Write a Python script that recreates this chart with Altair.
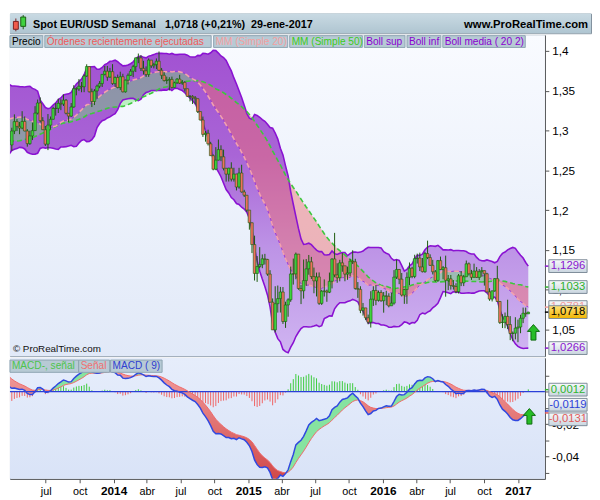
import altair as alt
import pandas as pd

FONT = "Liberation Sans"

# ---------------- data (weekly EUR/USD) ----------------
# closes used only to warm up the indicators (Apr 2012 - Mar 2013)
WARM_CLOSE = [1.3094, 1.3077, 1.3218, 1.3236, 1.3080, 1.2916, 1.2776, 1.2517, 1.2433, 1.2500,
              1.2639, 1.2570, 1.2660, 1.2290, 1.2245, 1.2155, 1.2321, 1.2388, 1.2290, 1.2333,
              1.2516, 1.2577, 1.2816, 1.3130, 1.2980, 1.2859, 1.3036, 1.2953, 1.3021, 1.2940,
              1.2834, 1.2711, 1.2744, 1.2975, 1.2985, 1.2924, 1.3163, 1.3187, 1.3216, 1.3067,
              1.3344, 1.3315, 1.3458, 1.3640, 1.3366, 1.3364, 1.3189, 1.3023, 1.3000, 1.3077,
              1.2986, 1.2819]

# visible candles, weeks starting 31-mar-2013 ... 29-ene-2017
CLOSE = [
    # 2013
    1.2994, 1.3112, 1.3052, 1.3031, 1.3114, 1.2994, 1.2835, 1.2932, 1.2999, 1.3219,
    1.3346, 1.3123, 1.3010, 1.2829, 1.3068, 1.3141, 1.3277, 1.3278, 1.3342, 1.3333,
    1.3381, 1.3217, 1.3181, 1.3296, 1.3525, 1.3522, 1.3556, 1.3550, 1.3685, 1.3804,
    1.3487, 1.3365, 1.3497, 1.3558, 1.3590, 1.3706, 1.3745, 1.3671, 1.3740,
    # 2014
    1.3590, 1.3666, 1.3540, 1.3676, 1.3486, 1.3633, 1.3693, 1.3745, 1.3803, 1.3913,
    1.3912, 1.3781, 1.3750, 1.3703, 1.3885, 1.3813, 1.3829, 1.3871, 1.3757, 1.3694,
    1.3628, 1.3633, 1.3642, 1.3541, 1.3600, 1.3646, 1.3595, 1.3605, 1.3525, 1.3430,
    1.3429, 1.3412, 1.3400, 1.3238, 1.3132, 1.2951, 1.2965, 1.2833, 1.2684, 1.2514,
    1.2628, 1.2760, 1.2670, 1.2525, 1.2452, 1.2527, 1.2389, 1.2453, 1.2290, 1.2466,
    1.2228, 1.2187,
    # 2015
    1.2000, 1.1841, 1.1567, 1.1204, 1.1291, 1.1315, 1.1388, 1.1380, 1.1196, 1.0843,
    1.0495, 1.0824, 1.0888, 1.0971, 1.0600, 1.0808, 1.0873, 1.1198, 1.1198, 1.1447,
    1.1015, 1.0986, 1.1114, 1.1262, 1.1350, 1.1165, 1.1111, 1.1160, 1.0828, 1.0981,
    1.0983, 1.0968, 1.1105, 1.1386, 1.1186, 1.1150, 1.1337, 1.1300, 1.1195, 1.1211,
    1.1358, 1.1350, 1.1015, 1.1004, 1.0741, 1.0771, 1.0647, 1.0592, 1.0880, 1.0990,
    1.0866, 1.0965,
    # 2016
    1.0861, 1.0922, 1.0917, 1.0797, 1.0831, 1.1158, 1.1254, 1.1132, 1.0932, 1.1002,
    1.1155, 1.1270, 1.1166, 1.1390, 1.1397, 1.1286, 1.1226, 1.1454, 1.1404, 1.1306,
    1.1225, 1.1116, 1.1365, 1.1253, 1.1276, 1.1117, 1.1136, 1.1052, 1.1040, 1.0976,
    1.1175, 1.1086, 1.1162, 1.1325, 1.1200, 1.1155, 1.1234, 1.1154, 1.1226, 1.1240,
    1.1200, 1.0972, 1.0882, 1.0985, 1.1139, 1.0852, 1.0588, 1.0590, 1.0664, 1.0562,
    1.0450, 1.0453, 1.0517,
    # 2017
    1.0531, 1.0641, 1.0704, 1.0696, 1.0718]

HIGH = [
    1.3035, 1.3203, 1.3145, 1.3108, 1.3243, 1.3177, 1.3017, 1.2997, 1.3099, 1.3306,
    1.3389, 1.3416, 1.3168, 1.3057, 1.3207, 1.3176, 1.3297, 1.3345, 1.3400, 1.3393,
    1.3453, 1.3395, 1.3220, 1.3345, 1.3569, 1.3544, 1.3646, 1.3610, 1.3705, 1.3832,
    1.3808, 1.3527, 1.3520, 1.3577, 1.3621, 1.3709, 1.3811, 1.3812, 1.3787,
    1.3834, 1.3680, 1.3703, 1.3739, 1.3713, 1.3640, 1.3717, 1.3773, 1.3826, 1.3915,
    1.3967, 1.3945, 1.3876, 1.3806, 1.3906, 1.3867, 1.3851, 1.3906, 1.3993, 1.3786,
    1.3733, 1.3677, 1.3670, 1.3677, 1.3614, 1.3659, 1.3700, 1.3635, 1.3621, 1.3525,
    1.3445, 1.3444, 1.3433, 1.3393, 1.3228, 1.3175, 1.2994, 1.3010, 1.2858, 1.2700,
    1.2791, 1.2887, 1.2814, 1.2760, 1.2530, 1.2532, 1.2601, 1.2532, 1.2456, 1.2531,
    1.2570, 1.2255,
    1.2186, 1.1966, 1.1843, 1.1679, 1.1423, 1.1534, 1.1443, 1.1450, 1.1387, 1.1245,
    1.0890, 1.1043, 1.1052, 1.1035, 1.1033, 1.0849, 1.0892, 1.1290, 1.1391, 1.1467,
    1.1445, 1.1058, 1.1379, 1.1385, 1.1436, 1.1412, 1.1278, 1.1215, 1.1217, 1.0998,
    1.1129, 1.1001, 1.1215, 1.1393, 1.1714, 1.1332, 1.1375, 1.1460, 1.1298, 1.1290,
    1.1387, 1.1495, 1.1388, 1.1096, 1.1043, 1.0833, 1.0761, 1.0687, 1.0981, 1.1043,
    1.1059, 1.0989,
    1.0994, 1.0971, 1.0986, 1.0955, 1.0962, 1.1246, 1.1376, 1.1260, 1.1210, 1.1011,
    1.1218, 1.1342, 1.1287, 1.1439, 1.1453, 1.1465, 1.1398, 1.1475, 1.1616, 1.1444,
    1.1375, 1.1247, 1.1373, 1.1416, 1.1298, 1.1428, 1.1185, 1.1185, 1.1121, 1.1081,
    1.1197, 1.1234, 1.1186, 1.1366, 1.1342, 1.1249, 1.1327, 1.1284, 1.1258, 1.1284,
    1.1240, 1.1212, 1.1018, 1.0989, 1.1146, 1.1300, 1.0857, 1.0691, 1.0713, 1.0874,
    1.0668, 1.0475, 1.0654,
    1.0624, 1.0685, 1.0775, 1.0775, 1.0722]

LOW = [
    1.2745, 1.2955, 1.2993, 1.2954, 1.3016, 1.2990, 1.2797, 1.2820, 1.2880, 1.2996,
    1.3201, 1.3101, 1.3007, 1.2806, 1.2754, 1.3011, 1.3137, 1.3187, 1.3220, 1.3256,
    1.3308, 1.3203, 1.3105, 1.3170, 1.3286, 1.3442, 1.3497, 1.3481, 1.3482, 1.3675,
    1.3478, 1.3295, 1.3320, 1.3400, 1.3532, 1.3547, 1.3692, 1.3625, 1.3663,
    1.3574, 1.3547, 1.3530, 1.3508, 1.3479, 1.3476, 1.3579, 1.3686, 1.3671, 1.3735,
    1.3846, 1.3748, 1.3704, 1.3673, 1.3674, 1.3786, 1.3781, 1.3772, 1.3748, 1.3647,
    1.3615, 1.3586, 1.3503, 1.3527, 1.3540, 1.3585, 1.3584, 1.3574, 1.3490, 1.3424,
    1.3366, 1.3333, 1.3327, 1.3220, 1.3127, 1.2920, 1.2860, 1.2812, 1.2681, 1.2500,
    1.2502, 1.2623, 1.2615, 1.2499, 1.2358, 1.2359, 1.2360, 1.2358, 1.2247, 1.2269,
    1.2220, 1.2165,
    1.1977, 1.1754, 1.1460, 1.1115, 1.1098, 1.1270, 1.1270, 1.1316, 1.1175, 1.0840,
    1.0494, 1.0462, 1.0712, 1.0713, 1.0570, 1.0520, 1.0660, 1.0847, 1.1064, 1.1131,
    1.0999, 1.0819, 1.0888, 1.1049, 1.1188, 1.1134, 1.0955, 1.0915, 1.0809, 1.0808,
    1.0914, 1.0848, 1.0957, 1.1016, 1.1156, 1.1087, 1.1105, 1.1225, 1.1106, 1.1124,
    1.1169, 1.1322, 1.1000, 1.0897, 1.0705, 1.0674, 1.0617, 1.0565, 1.0524, 1.0796,
    1.0805, 1.0850,
    1.0848, 1.0711, 1.0805, 1.0778, 1.0811, 1.0812, 1.1134, 1.1069, 1.0914, 1.0822,
    1.0822, 1.1058, 1.1144, 1.1144, 1.1328, 1.1234, 1.1217, 1.1212, 1.1384, 1.1299,
    1.1191, 1.1099, 1.1098, 1.1246, 1.1131, 1.0912, 1.0995, 1.1001, 1.1001, 1.0955,
    1.0952, 1.1045, 1.1045, 1.1162, 1.1178, 1.1123, 1.1150, 1.1147, 1.1122, 1.1162,
    1.1051, 1.0968, 1.0860, 1.0852, 1.0973, 1.0850, 1.0569, 1.0518, 1.0516, 1.0505,
    1.0366, 1.0352, 1.0375,
    1.0340, 1.0453, 1.0580, 1.0659, 1.0700]

FIRST_WEEK = "2012-04-01"

MONTHS_ES = ["ene", "feb", "mar", "abr", "may", "jun", "jul", "ago", "sep", "oct", "nov", "dic"]
QUARTER_TICKS = [(2013, 7), (2013, 10), (2014, 1), (2014, 4), (2014, 7), (2014, 10), (2015, 1),
                 (2015, 4), (2015, 7), (2015, 10), (2016, 1), (2016, 4), (2016, 7), (2016, 10), (2017, 1)]
PRICE_TICKS = [1.05, 1.1, 1.15, 1.2, 1.25, 1.3, 1.35, 1.4]
MACD_TICKS = [0.01, 0.0, -0.01, -0.02, -0.03, -0.04, -0.05]

PRICE_TAGS = [("1,1296", 1.1296, "#8a16cf"), ("1,1033", 1.1033, "#2db02d"),
              ("1,0781", 1.0781, "#f29b9b"), ("1,0718", 1.0718, "#000000"),
              ("1,0266", 1.0266, "#8a16cf")]
MACD_TAGS = [("0,0012", 0.0012, "#2fb52f", 0), ("-0,0119", -0.0119, "#2c3fd8", -6.3),
             ("-0,0131", -0.0131, "#e05a5a", 6.5)]

ARROW_PRICE = pd.DataFrame({"date": ["2017-02-12"], "v": [1.0464]})
ARROW_MACD = pd.DataFrame({"date": ["2017-02-01"], "v": [-0.0152]})

# ---------------- indicators ----------------
assert len(CLOSE) == len(HIGH) == len(LOW)
n_warm = len(WARM_CLOSE)
closes = pd.Series(WARM_CLOSE + CLOSE, dtype=float)
dates = pd.date_range(FIRST_WEEK, periods=len(closes), freq="7D").strftime("%Y-%m-%d")
opens = closes.shift(1)
mm20 = closes.rolling(20).mean()
sd20 = closes.rolling(20).std(ddof=0)
mm50 = closes.rolling(50).mean()
ema12 = closes.ewm(span=12, adjust=False).mean()
ema26 = closes.ewm(span=26, adjust=False).mean()
macd = ema12 - ema26
signal = macd.ewm(span=9, adjust=False).mean()

ind = pd.DataFrame({"date": list(dates), "mm20": mm20, "mm50": mm50,
                    "sup": mm20 + 2 * sd20, "inf": mm20 - 2 * sd20,
                    "macd": macd, "signal": signal})
ind["hist"] = ind["macd"] - ind["signal"]
ind["clo"] = ind[["mm20", "mm50"]].min(axis=1)
ind["mlo"] = ind[["macd", "signal"]].min(axis=1)
ind["zero"] = 0.0
ind = ind.iloc[n_warm - 1:].reset_index(drop=True)

cand = pd.DataFrame({"date": list(dates[n_warm:]), "open": opens.iloc[n_warm:].values,
                     "close": CLOSE, "high": HIGH, "low": LOW})
cand["high"] = cand[["high", "open", "close"]].max(axis=1)
cand["low"] = cand[["low", "open", "close"]].min(axis=1)

# ---------------- layout ----------------
W = 545
TOTAL_W = 592
H_HEAD = 20
H_PRICE = 327
H_MACD = 123
ONE = alt.Data(values=[{}])
LEG_SIZE = 10.3

XS = alt.Scale(type="utc", domain=[alt.DateTime(year=2013, month=3, date=26, utc=True),
                                   alt.DateTime(year=2017, month=3, date=15, utc=True)])
YP = alt.Scale(domain=[1.0165, 1.4198], nice=False, zero=False)
YM = alt.Scale(domain=[-0.0536, 0.0206], nice=False, zero=False)

LBL = "replace(toString(round(datum.value*100)/100), '.', ',')"


def vgrad(stops):
    return alt.Gradient(gradient="linear", x1=0, x2=0, y1=0, y2=1,
                        stops=[alt.GradientStop(offset=o, color=c) for o, c in stops])


def rect(x0, x1, y0, y1, fill, stroke=None):
    kw = dict(fill=fill)
    if stroke:
        kw.update(stroke=stroke, strokeWidth=1)
    return alt.Chart(ONE).mark_rect(**kw).encode(
        x=alt.value(x0), x2=alt.value(x1), y=alt.value(y0), y2=alt.value(y1))


def text(x, y, s, color, size=11, weight="normal", align="left"):
    return alt.Chart(ONE).mark_text(text=s, color=color, fontSize=size, fontWeight=weight,
                                    align=align, baseline="middle", font=FONT).encode(
        x=alt.value(x), y=alt.value(y))


# axes (the same axis object is given to every layer so that they merge cleanly)
PAX = alt.Axis(orient="right", values=PRICE_TICKS, labelExpr=LBL, tickSize=4, tickColor="#555",
               domainColor="#555", labelColor="#000", labelFontSize=12, labelFont=FONT,
               labelPadding=3, grid=False, labelOverlap=False, minExtent=47, maxExtent=47)
MAX = alt.Axis(orient="right", values=MACD_TICKS,
               labelExpr="(round(abs(datum.value)*100) % 2 == 0) ? " + LBL + " : ''",
               tickSize=4, tickColor="#555", domainColor="#555", labelColor="#000",
               labelFontSize=12, labelFont=FONT, labelPadding=3, grid=False,
               labelOverlap=False, minExtent=47, maxExtent=47)
XAX = alt.Axis(orient="bottom",
               values=[alt.DateTime(year=y, month=m, date=1, utc=True) for y, m in QUARTER_TICKS],
               labelExpr="utcmonth(datum.value) == 0 ? toString(utcyear(datum.value)) : "
                         + str(MONTHS_ES) + "[utcmonth(datum.value)]",
               labelFontWeight={"condition": {"test": "utcmonth(datum.value) == 0", "value": "bold"},
                                "value": "normal"},
               labelFontSize={"condition": {"test": "utcmonth(datum.value) == 0", "value": 12},
                              "value": 11},
               labelColor="#000", labelFont=FONT, tickSize=4, tickColor="#555", domainColor="#555",
               labelPadding=3, labelFlush=False, labelOverlap=False, grid=False,
               minExtent=22, maxExtent=22)

XP = alt.X("date:T", scale=XS, axis=None, title=None)
XM = alt.X("date:T", scale=XS, axis=XAX, title=None)


def yp(field):
    return alt.Y(f"{field}:Q", scale=YP, axis=PAX, title=None)


def ym(field):
    return alt.Y(f"{field}:Q", scale=YM, axis=MAX, title=None)


TAG_FILL = vgrad([(0, "#f7f9fb"), (1, "#c9d5df")])
YELLOW_FILL = vgrad([(0, "#ffe27a"), (1, "#f0b400")])


def tag(s, v, color, ysc, yax, offset=0, fill=TAG_FILL):
    y = alt.YDatum(v, type="quantitative", scale=ysc, axis=yax, title=None)
    base = alt.Chart(ONE)
    return [
        base.mark_rule(color=color, strokeWidth=1.5).encode(
            x=alt.value(545), x2=alt.value(549), y=y),
        base.mark_rect(fill=fill, stroke="#7d8c99", strokeWidth=1,
                       yOffset=offset - 6.5, y2Offset=offset + 6.5).encode(
            x=alt.value(549), x2=alt.value(588), y=y, y2=alt.Y2Datum(v)),
        base.mark_text(text=s, color=color, fontSize=11.5, font=FONT, align="center",
                       baseline="middle", dy=offset).encode(x=alt.value(568.5), y=y),
    ]


ARROW = "M0,-1 L0.78,-0.12 L0.32,-0.12 L0.32,1 L-0.32,1 L-0.32,-0.12 L-0.78,-0.12 Z"

# ---------------- header ----------------
header_layers = [
    rect(0, TOTAL_W, 0, H_HEAD, vgrad([(0, "#c9dae3"), (1, "#afc5d1")])),
    alt.Chart(ONE).mark_rule(color="#7a2020").encode(x=alt.value(6), y=alt.value(5), y2=alt.value(18)),
    rect(3.5, 8.5, 8, 16, "#ef5b4b", "#7a2020"),
    alt.Chart(ONE).mark_rule(color="#1d5e12").encode(x=alt.value(13.5), y=alt.value(1.5), y2=alt.value(16)),
    rect(11, 16, 3.5, 13, "#3fd13f", "#1d5e12"),
    text(23.5, 11.5, "Spot EUR/USD", "#000", 11, "bold"),
    text(103.5, 11.5, "Semanal", "#000", 11, "bold"),
    text(158, 11.5, "1,0718 (+0,21%)", "#000", 11, "bold"),
    text(245.5, 11.5, "29-ene-2017", "#000", 11, "bold"),
    text(589, 11.5, "www.ProRealTime.com", "#000", 11.5, "bold", "right"),
]
header = alt.layer(*header_layers).properties(width=TOTAL_W, height=H_HEAD)

# ---------------- price panel ----------------
band = alt.Chart(ind).mark_area(
    clip=True, color=vgrad([(0, "#a252d2"), (0.35, "#a965d6"), (0.65, "#bd93e6"), (1, "#cfb4f1")])
).encode(x=XP, y=yp("sup"), y2="inf:Q")

cloud_g = alt.Chart(ind).mark_area(clip=True, color="#6ee86e", opacity=0.42).encode(
    x=XP, y=yp("mm20"), y2="clo:Q")
cloud_p = alt.Chart(ind).mark_area(clip=True, color="#f06a6a", opacity=0.45).encode(
    x=XP, y=yp("mm50"), y2="clo:Q")


def pline(field, color, width, dash=None):
    kw = dict(clip=True, color=color, strokeWidth=width)
    if dash:
        kw["strokeDash"] = dash
    return alt.Chart(ind).mark_line(**kw).encode(x=XP, y=yp(field))


wick = alt.Chart(cand).mark_rule(color="#1c5a0c", strokeWidth=1).encode(
    x=XP, y=yp("low"), y2="high:Q")
body = alt.Chart(cand).mark_rect(stroke="#1c5a0c", strokeWidth=0.6, xOffset=-1.3, x2Offset=1.3).encode(
    x=XP, x2="date:T", y=yp("open"), y2="close:Q",
    fill=alt.condition("datum.close >= datum.open", alt.value("#3ed43e"), alt.value("#f0705c")))

arrow_p = alt.Chart(ARROW_PRICE).mark_point(shape=ARROW, size=250, filled=True, fill="#27bd27",
                                            stroke="#0c6a0c", strokeWidth=1, opacity=1).encode(
    x=XP, y=yp("v"))

LEGEND = [("Precio", 0, 33.5, "#000000"),
          ("Órdenes recientemente ejecutadas", 35.5, 205, "#f05a5a"),
          ("MM (Simple 20)", 207.5, 283, "#f4a0a0"),
          ("MM (Simple 50)", 285, 359, "#3ccc20"),
          ("Boll sup", 361, 402.5, "#8a00d0"),
          ("Boll inf", 404.5, 439, "#8a00d0"),
          ("Boll media ( 20 2)", 441, 525, "#8a00d0")]
legend_layers = []
for s, x0, x1, c in LEGEND:
    legend_layers.append(rect(x0, x1, 0.5, 12.5, "#b7cad5", "#8ea4b1"))
    legend_layers.append(text(x0 + 2, 6.8, s, c, LEG_SIZE))

price_tags = []
for s, v, c in PRICE_TAGS:
    price_tags += tag(s, v, c, YP, PAX, 0, YELLOW_FILL if s == "1,0718" else TAG_FILL)

price = alt.layer(
    rect(0, W, 0, H_PRICE, vgrad([(0, "#f9fbff"), (1, "#e1e9f8")])),
    band, cloud_g, cloud_p,
    pline("sup", "#8a12d2", 1.6), pline("inf", "#8a12d2", 1.6),
    pline("mm20", "#9a3ad8", 1),
    pline("mm50", "#3cc83c", 1.6, [5, 3]),
    pline("mm20", "#f4a2ac", 1.6, [5, 3]),
    wick, body, arrow_p,
    *legend_layers,
    text(3, 319.5, "© ProRealTime.com", "#111", 10),
    *price_tags,
).properties(width=W, height=H_PRICE)

# ---------------- MACD panel ----------------
hist = alt.Chart(ind).mark_rule(clip=True, strokeWidth=1).encode(
    x=XM, y=ym("hist"), y2="zero:Q",
    color=alt.condition("datum.hist >= 0", alt.value("#3ccc3c"), alt.value("#f06464")))
mfill_g = alt.Chart(ind).mark_area(clip=True, color="#86e3a0").encode(
    x=XM, y=ym("macd"), y2="mlo:Q")
mfill_r = alt.Chart(ind).mark_area(clip=True, color=vgrad([(0, "#f19a9a"), (1, "#d04848")])).encode(
    x=XM, y=ym("signal"), y2="mlo:Q")
zero = alt.Chart(ONE).mark_rule(color="#2a3fd8", strokeWidth=1.5).encode(
    y=alt.YDatum(0.0, type="quantitative", scale=YM, axis=MAX, title=None))
sig_line = alt.Chart(ind).mark_line(clip=True, color="#f06a6a", strokeWidth=1).encode(
    x=XM, y=ym("signal"))
macd_line = alt.Chart(ind).mark_line(clip=True, color="#3048e0", strokeWidth=1.5).encode(
    x=XM, y=ym("macd"))
arrow_m = alt.Chart(ARROW_MACD).mark_point(shape=ARROW, size=250, filled=True, fill="#27bd27",
                                           stroke="#0c6a0c", strokeWidth=1, opacity=1).encode(
    x=XM, y=ym("v"))

MLEGEND = [("MACD-, señal", 0, 70, "#4cc44c"), ("Señal", 70, 101.5, "#f07070"),
           ("MACD ( 9)", 102.5, 155, "#3040d0")]
mlegend_layers = []
for s, x0, x1, c in MLEGEND:
    mlegend_layers.append(rect(x0, x1, 2, 14.5, "#b7cad5", "#8ea4b1"))
    mlegend_layers.append(text(x0 + 2, 8.5, s, c, LEG_SIZE))

macd_tags = []
for s, v, c, off in MACD_TAGS:
    macd_tags += tag(s, v, c, YM, MAX, off)

macd_panel = alt.layer(
    rect(0, W, 0, H_MACD, vgrad([(0, "#e6edfb"), (1, "#d9e3f7")])),
    hist, mfill_g, mfill_r, zero, sig_line, macd_line, arrow_m,
    *mlegend_layers, *macd_tags,
).properties(width=W, height=H_MACD)

chart = alt.vconcat(header, price, macd_panel, spacing=0, padding=0).configure_view(
    stroke="#7f8f9c", strokeWidth=1)

chart.save("out.html", embed_options={"renderer": "svg", "actions": False})
